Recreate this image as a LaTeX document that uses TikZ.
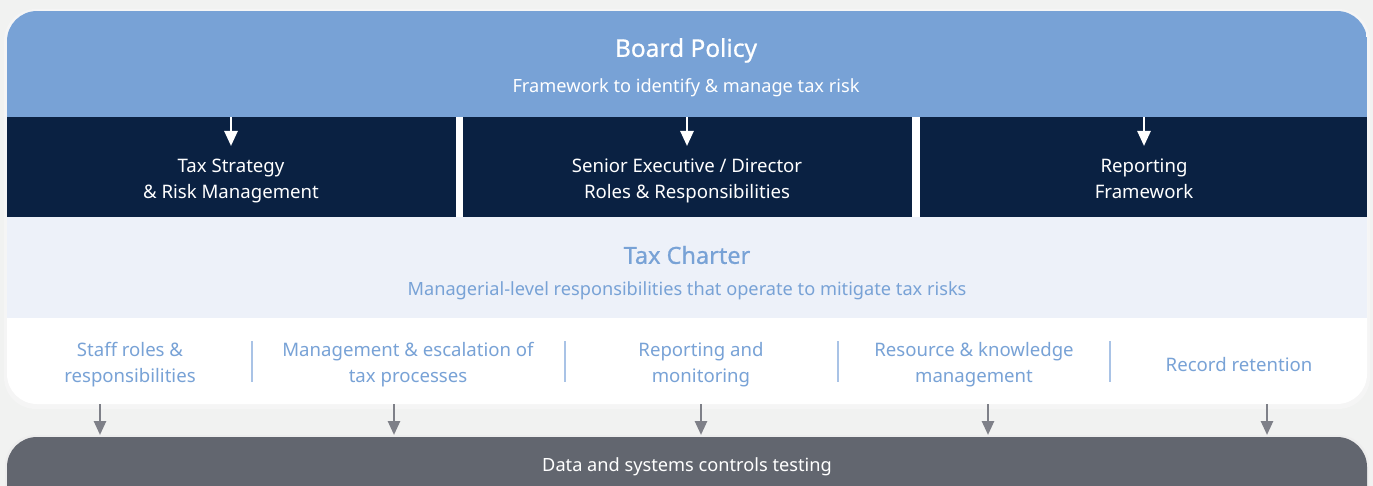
\documentclass[tikz,border=0pt]{standalone}
\usepackage{fontspec}
\setmainfont{Noto Sans}
\newfontfamily\semib[FakeBold=0.7]{Noto Sans}
\usetikzlibrary{arrows.meta}
\definecolor{bgc}{HTML}{F1F2F1}
\definecolor{topblue}{HTML}{78A2D6}
\definecolor{navy}{HTML}{0A2142}
\definecolor{charter}{HTML}{EDF1F9}
\definecolor{itemblue}{HTML}{78A2D6}
\definecolor{sepblue}{HTML}{A9C3E6}
\definecolor{arrgrey}{HTML}{7E8088}
\definecolor{pill}{HTML}{62666F}
\tikzset{
  whitearr/.style={draw=white, line width=2.6pt, -{Triangle[width=13pt,length=15pt]}},
  greyarr/.style={draw=arrgrey, line width=2.6pt, -{Triangle[width=12pt,length=14pt]}},
  navytext/.style={text=white, font=\fontsize{18.6}{26}\selectfont, align=center},
  itemtext/.style={text=itemblue, font=\fontsize{18.6}{26}\selectfont, align=center},
  sepline/.style={draw=sepblue, line width=1.2pt},
}
\begin{document}
\begin{tikzpicture}[x=1pt,y=-1pt]
\useasboundingbox (0,0) rectangle (1373,486);
\clip (0,0) rectangle (1373,486);
\fill[bgc] (0,0) rectangle (1373,486);
% card shadow
\fill[black!6, rounded corners=31] (5,10) rectangle (1369,407);
\fill[black!4, rounded corners=32] (4,9) rectangle (1370,409);
\fill[white, rounded corners=30] (7,11) rectangle (1367,404);
\begin{scope}
  \clip[rounded corners=30] (7,11) rectangle (1367,404);
  \fill[topblue] (7,11) rectangle (1367,117);
  \fill[navy] (7,117) rectangle (1367,217);
  \fill[white] (456,117) rectangle (463,217);
  \fill[white] (912,117) rectangle (920,217);
  \fill[charter] (7,217) rectangle (1367,318);
\end{scope}
% Board policy
\node[text=white, font=\fontsize{24.5}{28}\semib] (board) at (686,50.5) {Board Policy};
\node[text=white, font=\fontsize{18.2}{22}\selectfont] (boardsub) at (686,88) {Framework to identify \& manage tax risk};
% navy boxes
\node[navytext] (strat) at (231,181) {Tax Strategy\\\& Risk Management};
\node[navytext] (senior) at (687,181) {Senior Executive / Director\\Roles \& Responsibilities};
\node[navytext] (report) at (1144,179) {Reporting\\Framework};
\coordinate (s1) at (231,117); \coordinate (s2) at (231,146);
\coordinate (e1) at (687,117); \coordinate (e2) at (687,146);
\coordinate (r1) at (1144,117); \coordinate (r2) at (1144,146);
\draw[whitearr] (s1) -- (s2);
\draw[whitearr] (e1) -- (e2);
\draw[whitearr] (r1) -- (r2);
% tax charter
\node[text=topblue, font=\fontsize{23.5}{26}\semib] (charter) at (687,255) {Tax Charter};
\node[text=itemblue, font=\fontsize{18.2}{22}\selectfont] (chartersub) at (687,291) {Managerial-level responsibilities that operate to mitigate tax risks};
% items
\node[itemtext] (i1) at (130,365) {Staff roles \&\\responsibilities};
\node[itemtext] (i2) at (408,365) {Management \& escalation of\\tax processes};
\node[itemtext] (i3) at (701,365) {Reporting and\\monitoring};
\node[itemtext] (i4) at (974,365) {Resource \& knowledge\\management};
\node[itemtext] (i5) at (1239,365) {Record retention};
\coordinate (l1a) at (252,341); \coordinate (l1b) at (252,382);
\coordinate (l2a) at (565,341); \coordinate (l2b) at (565,382);
\coordinate (l3a) at (838,341); \coordinate (l3b) at (838,382);
\coordinate (l4a) at (1110,341); \coordinate (l4b) at (1110,382);
\draw[sepline] (l1a) -- (l1b);
\draw[sepline] (l2a) -- (l2b);
\draw[sepline] (l3a) -- (l3b);
\draw[sepline] (l4a) -- (l4b);
% bottom pill
\fill[black!7, rounded corners=31] (5,435) rectangle (1369,530);
\fill[pill, rounded corners=30] (7,437) rectangle (1367,530);
\node[text=white, font=\fontsize{18.2}{22}\selectfont] (data) at (687,466.5) {Data and systems controls testing};
\foreach \x/\n in {100/a,394/b,701/c,988/d,1267/e}{
  \coordinate (g\n1) at (\x,404);
  \coordinate (g\n2) at (\x,435);
}
\draw[greyarr] (ga1) -- (ga2);
\draw[greyarr] (gb1) -- (gb2);
\draw[greyarr] (gc1) -- (gc2);
\draw[greyarr] (gd1) -- (gd2);
\draw[greyarr] (ge1) -- (ge2);
\end{tikzpicture}
\end{document}
